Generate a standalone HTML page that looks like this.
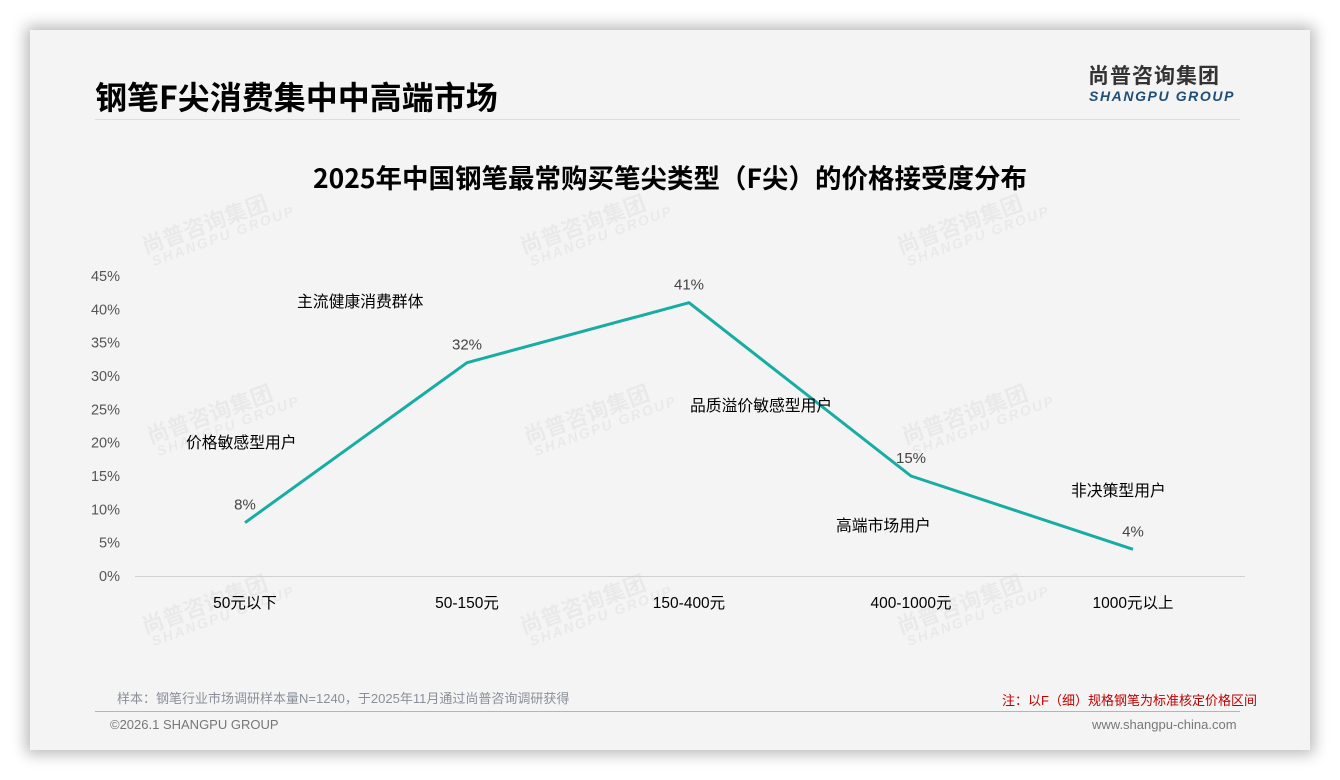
<!DOCTYPE html>
<html><head><meta charset="utf-8">
<style>
body{margin:0;width:1340px;height:780px;background:#fff;position:relative;overflow:hidden;font-family:"Liberation Sans","Noto Sans CJK SC",sans-serif}
#card{position:absolute;left:30px;top:30px;width:1280px;height:720px;background:#f4f4f4;box-shadow:0 0 14px 4px rgba(0,0,0,.28)}
.abs{position:absolute;white-space:nowrap}
.wm{position:absolute;transform:rotate(-20deg);color:rgba(0,0,0,.045);font-weight:bold;line-height:1}
</style></head><body>
<div id="card"></div>
<div class="abs" style="left:95px;top:76px;font-size:32px;font-weight:bold;color:#000;font-family:'Noto Sans CJK SC',sans-serif;line-height:40px">钢笔F尖消费集中中高端市场</div>
<div class="abs" style="left:95px;top:119px;width:1145px;height:1px;background:#ddd"></div>
<div class="abs" style="left:1088px;top:62px;font-size:21px;font-weight:bold;color:#333;font-family:'Noto Sans CJK SC',sans-serif;line-height:26px;letter-spacing:1px">尚普咨询集团</div>
<div class="abs" style="left:1089px;top:88px;font-size:14px;font-weight:bold;font-style:italic;color:#1f4e79;letter-spacing:1.6px">SHANGPU GROUP</div>
<div class="abs" style="left:0;width:1340px;text-align:center;top:160px;font-size:26.5px;font-weight:bold;color:#000;font-family:'Noto Sans CJK SC',sans-serif;line-height:34px">2025年中国钢笔最常购买笔尖类型（F尖）的价格接受度分布</div>
<div id="wms"></div>
<svg id="chart" width="1340" height="780" style="position:absolute;left:0;top:0"></svg>
<div class="abs" style="left:117px;top:688px;font-size:13px;color:#8a8f99">样本：钢笔行业市场调研样本量N=1240，于2025年11月通过尚普咨询调研获得</div>
<div class="abs" style="left:1002px;top:690px;font-size:13px;color:#c00000">注：以F（细）规格钢笔为标准核定价格区间</div>
<div class="abs" style="left:95px;top:711px;width:1145px;height:1px;background:#a9b8c8"></div>
<div class="abs" style="left:110px;top:717px;font-size:13px;color:#777">©2026.1 SHANGPU GROUP</div>
<div class="abs" style="left:1092px;top:717px;font-size:13px;color:#777">www.shangpu-china.com</div>
<script>
const categories=["50元以下","50-150元","150-400元","400-1000元","1000元以上"];
const values=[8,32,41,15,4];
const yTicks=[0,5,10,15,20,25,30,35,40,45];
const annotations=["价格敏感型用户","主流健康消费群体","品质溢价敏感型用户","高端市场用户","非决策型用户"];
const NS="http://www.w3.org/2000/svg";
const svg=document.getElementById('chart');
const xPos=i=>245+i*222;
const yPos=v=>576-v*(300/45);
function mk(t,a){const e=document.createElementNS(NS,t);for(const k in a)e.setAttribute(k,a[k]);svg.appendChild(e);return e;}
const ax=mk('line',{x1:135,x2:1245,y1:yPos(0)+0.5,y2:yPos(0)+0.5,stroke:'#d0d0d0','stroke-width':1});

yTicks.forEach(t=>{const e=mk('text',{x:120,y:yPos(t)+5,'text-anchor':'end','font-size':14.5,fill:'#555','font-family':'Liberation Sans, sans-serif'});e.textContent=t+'%';
});
categories.forEach((c,i)=>{const e=mk('text',{x:xPos(i),y:608,'text-anchor':'middle','font-size':15.5,fill:'#000','font-family':'Liberation Sans, Noto Sans CJK SC, sans-serif'});e.textContent=c;
});
const pl=mk('polyline',{points:values.map((v,i)=>xPos(i)+','+yPos(v)).join(' '),fill:'none',stroke:'#17ada3','stroke-width':3,'stroke-linejoin':'round'});

values.forEach((v,i)=>{const e=mk('text',{x:xPos(i),y:yPos(v)-13,'text-anchor':'middle','font-size':15,fill:'#444','font-family':'Liberation Sans, sans-serif'});e.textContent=v+'%';
});
const annPos=[[186,448],[297,307],[690,411],[836,531],[1071,496]];
annotations.forEach((a,i)=>{const e=mk('text',{x:annPos[i][0],y:annPos[i][1],'font-size':15.8,fill:'#000','font-family':'Noto Sans CJK SC, sans-serif'});e.textContent=a;
});
const wmPos=[[140,208],[518,208],[895,208],[145,398],[522,398],[900,398],[140,588],[518,588],[895,588]];
const wc=document.getElementById('wms');
wmPos.forEach(p=>{const d=document.createElement('div');d.className='wm';d.style.left=p[0]+'px';d.style.top=p[1]+'px';
d.innerHTML='<div style="font-size:22px;font-family:Noto Sans CJK SC,sans-serif">尚普咨询集团</div><div style="font-size:14px;font-style:italic;letter-spacing:2px;margin-left:4px">SHANGPU GROUP</div>';


wc.appendChild(d);});
</script>
</body></html>
